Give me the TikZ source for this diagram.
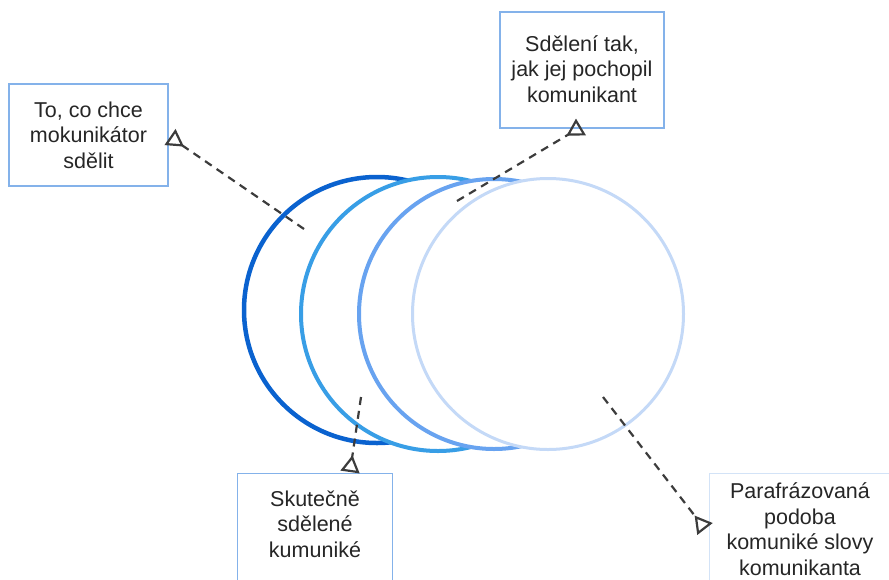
\documentclass[tikz,border=0pt]{standalone}
\usepackage{fontspec}
\setmainfont{Liberation Sans}
\usetikzlibrary{arrows.meta}
\definecolor{cA}{HTML}{0A62CF}
\definecolor{cB}{HTML}{389EE6}
\definecolor{cC}{HTML}{68A3F0}
\definecolor{cD}{HTML}{C4D9F7}
\definecolor{boxline}{HTML}{84B2EA}
\definecolor{boxfaint}{HTML}{D3E3F7}
\definecolor{txt}{HTML}{262626}
\definecolor{dash}{HTML}{3C3C3C}
\begin{document}
\begin{tikzpicture}[x=1pt,y=-1pt,
  ring/.style={circle,draw,fill=white,inner sep=0pt,minimum size=#1},
  tbox/.style={rectangle,draw=boxline,line width=1.3pt,fill=white,inner sep=0pt},
  ttext/.style={text=txt,font=\fontsize{21.5}{25.5}\selectfont,align=center,inner sep=0pt},
  conn/.style={draw=dash,line width=2.2pt,dash pattern=on 8pt off 6pt,
    -{Triangle[open,reversed,length=17pt,width=19pt,line width=2.2pt]}}
]
\useasboundingbox (0,0) rectangle (889,579);
\clip (0,0) rectangle (889,579);
% circles
\node[ring=266pt,draw=cA,line width=4.5pt] (c1) at (377,310) {};
\node[ring=274pt,draw=cB,line width=4pt] (c2) at (438,314) {};
\node[ring=270pt,draw=cC,line width=4pt] (c3) at (494,314) {};
\node[ring=271pt,draw=cD,line width=3pt] (c4) at (548,314) {};
% boxes
\node[tbox,minimum width=159pt,minimum height=102pt] (b1) at (88.5,135) {};
\node[ttext] (t1) at (b1.center) {To, co chce\\mokunikátor\\sdělit};
\node[tbox,minimum width=164pt,minimum height=116pt] (b2) at (582,70) {};
\node[ttext] (t2) at (582,69) {Sdělení tak,\\jak jej pochopil\\komunikant};
\node[tbox,minimum width=155pt,minimum height=140pt,anchor=north west] (b3) at (237,473) {};
\node[ttext] (t3) at (315,524) {Skutečně\\sdělené\\kumuniké};
\node[tbox,draw=boxfaint,minimum width=200pt,minimum height=140pt,anchor=north west] (b4) at (709,473) {};
\node[ttext] (t4) at (800,529) {Parafrázovaná\\podoba\\komuniké slovy\\komunikanta};
% connectors
\coordinate (s1) at (304,229);
\coordinate (e1) at (170,137);
\coordinate (s2) at (457,201);
\coordinate (e2) at (581,127);
\coordinate (s3) at (361,397);
\coordinate (e3) at (350,472);
\coordinate (s4) at (603,397);
\coordinate (e4) at (705,529);
\draw[conn] (s1) -- (e1);
\draw[conn] (s2) -- (e2);
\draw[conn] (s3) -- (e3);
\draw[conn] (s4) -- (e4);
\end{tikzpicture}
\end{document}
